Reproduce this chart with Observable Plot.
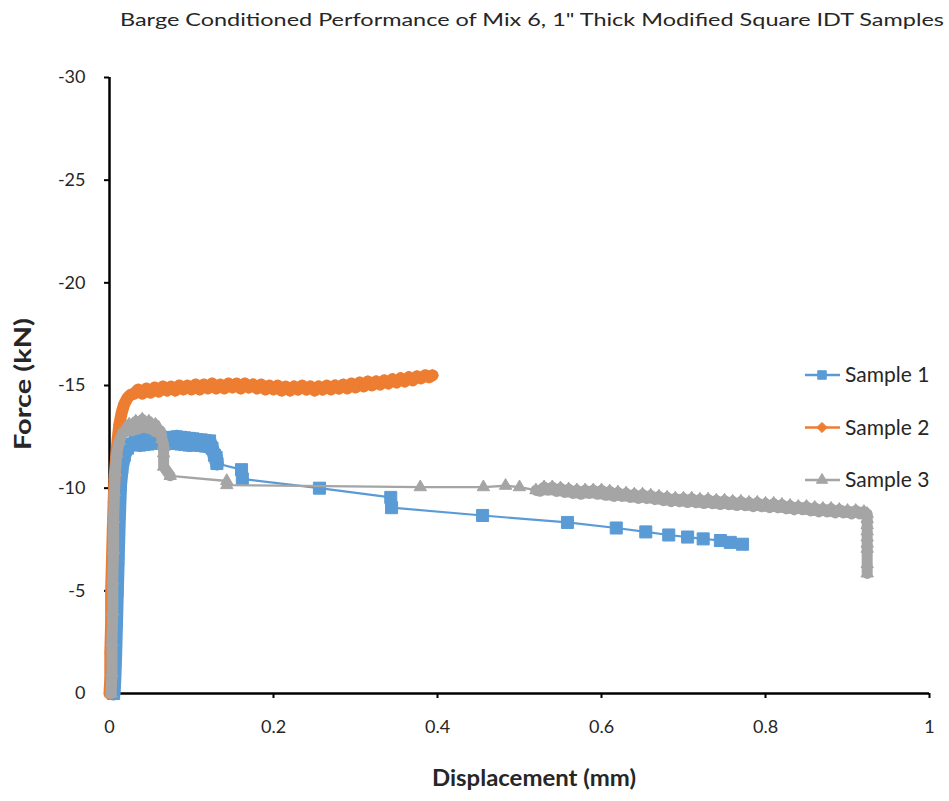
<!DOCTYPE html>
<html>
<head>
<meta charset="utf-8">
<script src="https://cdn.jsdelivr.net/npm/d3@7"></script>
<script src="https://cdn.jsdelivr.net/npm/@observablehq/plot@0.6"></script>
<style>
  body { margin: 0; background: #fff; }
  #chart { position: relative; width: 949px; height: 801px; }
  #chart svg { position: absolute; left: 0; top: 0; }
</style>
</head>
<body>
<div id="chart"></div>
<script>
// Force–displacement records, [displacement (mm), force (kN)]
const sample1 = [
  [0.005, 0], [0.006, -0.8], [0.007, -2], [0.008, -3.5], [0.009, -5], [0.010, -6.5],
  [0.011, -8], [0.012, -9.2], [0.013, -10.2], [0.015, -11], [0.018, -11.6], [0.022, -11.95],
  [0.027, -12.15], [0.032, -12.3], [0.037, -12.1], [0.042, -12.45], [0.047, -12.15],
  [0.052, -12.5], [0.057, -12.2], [0.062, -12.5], [0.067, -12.15], [0.072, -12.45],
  [0.077, -12.2], [0.082, -12.5], [0.087, -12.15], [0.092, -12.45], [0.097, -12.1],
  [0.102, -12.4], [0.107, -12.1], [0.112, -12.35], [0.117, -12.05], [0.122, -12.3],
  [0.125, -11.95], [0.128, -11.6], [0.130, -11.5], [0.131, -11.2],
  [0.161, -10.9], [0.162, -10.45], [0.256, -10.0], [0.343, -9.55], [0.344, -9.05],
  [0.455, -8.67], [0.5585, -8.33], [0.618, -8.06], [0.654, -7.87], [0.682, -7.72],
  [0.705, -7.62], [0.724, -7.53], [0.745, -7.45], [0.757, -7.36], [0.772, -7.27]
];

const sample2 = [
  [0.000, 0], [0.001, -0.8], [0.001, -2], [0.002, -3.5], [0.002, -5], [0.003, -6.5],
  [0.004, -8], [0.005, -9.3], [0.006, -10.4], [0.008, -11.5], [0.010, -12.4], [0.012, -13.1],
  [0.015, -13.7], [0.018, -14.1], [0.022, -14.4], [0.026, -14.55], [0.030, -14.6],
  [0.035, -14.8], [0.040, -14.6], [0.045, -14.85], [0.050, -14.65], [0.055, -14.9],
  [0.060, -14.7], [0.065, -14.95], [0.070, -14.75], [0.075, -14.95], [0.080, -14.75],
  [0.085, -15.0], [0.090, -14.8], [0.095, -15.0], [0.100, -14.8], [0.105, -15.05],
  [0.110, -14.8], [0.115, -15.05], [0.120, -14.85], [0.125, -15.1], [0.130, -14.85],
  [0.135, -15.05], [0.140, -14.85], [0.145, -15.1], [0.150, -14.9], [0.155, -15.1],
  [0.160, -14.85], [0.165, -15.1], [0.170, -14.9], [0.175, -15.05], [0.180, -14.85],
  [0.185, -15.05], [0.190, -14.8], [0.195, -15.0], [0.200, -14.8], [0.205, -15.0],
  [0.210, -14.75], [0.215, -14.95], [0.220, -14.75], [0.225, -14.95], [0.230, -14.8],
  [0.235, -15.0], [0.240, -14.8], [0.245, -14.95], [0.250, -14.75], [0.255, -14.95],
  [0.260, -14.8], [0.265, -15.0], [0.270, -14.8], [0.275, -15.0], [0.280, -14.85],
  [0.285, -15.05], [0.290, -14.85], [0.295, -15.1], [0.300, -14.9], [0.305, -15.15],
  [0.310, -14.95], [0.315, -15.2], [0.320, -15.0], [0.325, -15.2], [0.330, -15.05],
  [0.335, -15.25], [0.340, -15.1], [0.345, -15.3], [0.350, -15.15], [0.355, -15.35],
  [0.360, -15.2], [0.365, -15.4], [0.370, -15.25], [0.375, -15.45], [0.380, -15.35],
  [0.385, -15.5], [0.390, -15.4], [0.394, -15.5]
];

const sample3 = [
  [0.002, 0], [0.003, -1], [0.003, -2.5], [0.004, -4], [0.004, -5.5], [0.005, -7],
  [0.005, -8.5], [0.006, -9.8], [0.007, -10.8], [0.009, -11.7], [0.012, -12.3],
  [0.016, -12.7], [0.020, -12.85], [0.024, -13.1], [0.028, -12.8], [0.032, -13.25],
  [0.036, -12.9], [0.040, -13.35], [0.044, -12.95], [0.048, -13.25], [0.052, -12.85],
  [0.056, -13.1], [0.059, -12.7], [0.062, -12.8], [0.064, -12.4], [0.066, -12.1],
  [0.066, -11.7], [0.066, -11.05], [0.074, -10.6], [0.143, -10.35], [0.143, -10.15],
  [0.379, -10.05], [0.456, -10.05], [0.483, -10.12], [0.500, -10.05], [0.520, -9.9],
  [0.525, -9.85], [0.530, -10.05], [0.535, -9.9], [0.540, -10.05], [0.545, -9.85],
  [0.550, -10.0], [0.555, -9.8], [0.560, -9.95], [0.565, -9.75], [0.570, -9.9],
  [0.575, -9.7], [0.580, -9.9], [0.585, -9.75], [0.590, -9.9], [0.595, -9.7],
  [0.600, -9.9], [0.605, -9.65], [0.610, -9.85], [0.615, -9.6], [0.620, -9.8],
  [0.625, -9.6], [0.630, -9.75], [0.635, -9.55], [0.640, -9.7], [0.645, -9.5],
  [0.650, -9.7], [0.655, -9.5], [0.660, -9.65], [0.665, -9.45], [0.670, -9.6],
  [0.675, -9.4], [0.680, -9.55], [0.685, -9.35], [0.690, -9.5], [0.695, -9.35],
  [0.700, -9.5], [0.705, -9.3], [0.710, -9.5], [0.715, -9.3], [0.720, -9.45],
  [0.725, -9.25], [0.730, -9.45], [0.735, -9.25], [0.740, -9.4], [0.745, -9.2],
  [0.750, -9.4], [0.755, -9.2], [0.760, -9.35], [0.765, -9.15], [0.770, -9.35],
  [0.775, -9.15], [0.780, -9.3], [0.785, -9.1], [0.790, -9.3], [0.795, -9.1],
  [0.800, -9.25], [0.805, -9.05], [0.810, -9.25], [0.815, -9.05], [0.820, -9.2],
  [0.825, -9.0], [0.830, -9.15], [0.835, -8.95], [0.840, -9.1], [0.845, -8.95],
  [0.850, -9.1], [0.855, -8.9], [0.860, -9.05], [0.865, -8.85], [0.870, -9.0],
  [0.875, -8.85], [0.880, -9.0], [0.885, -8.8], [0.890, -8.95], [0.895, -8.8],
  [0.900, -8.9], [0.905, -8.75], [0.910, -8.9], [0.915, -8.75], [0.920, -8.85],
  [0.924, -8.75], [0.924, -8.5], [0.924, -8.2], [0.924, -7.9], [0.924, -7.6],
  [0.924, -7.3], [0.924, -7.05], [0.924, -6.3], [0.924, -5.85]
];

const seriesNames = ["Sample 1", "Sample 2", "Sample 3"];
const seriesColors = ["#5B9BD5", "#ED7D31", "#A5A5A5"];
const seriesSymbols = ["square", "diamond2", "triangle"];

const xTicks = [0, 0.2, 0.4, 0.6, 0.8, 1];
const xTickLabels = ["0", "0.2", "0.4", "0.6", "0.8", "1"];
const yTicks = [0, -5, -10, -15, -20, -25, -30];
const yTickLabels = ["0", "-5", "-10", "-15", "-20", "-25", "-30"];

const titleText = "Barge Conditioned Performance of Mix 6, 1\" Thick Modified Square IDT Samples";
const xLabel = "Displacement (mm)";
const yLabel = "Force (kN)";

const font = "Lato, 'Open Sans', sans-serif";
const ink = "#262626";

// per-series style: marker radius, thin connector width, width of the dense-record band
const markerR = [6.8, 5.0, 4.6];
const lineW = [2.2, 2.2, 2.4];
const bandW = [14, 12, 11];

// Closely spaced readings run together into one continuous band; a jump in
// displacement starts a new run.
function withRuns(rows) {
  let run = 0;
  return rows.map(([d, f], j) => {
    if (j > 0 && d - rows[j - 1][0] > 0.011) run++;
    return {d, f, run};
  });
}

const records = [sample1, sample2, sample3];
const seriesMarks = records.flatMap((rows, i) => {
  const data = withRuns(rows);
  const counts = d3.rollup(data, v => v.length, r => r.run);
  const dense = data.filter(r => counts.get(r.run) >= 4);
  return [
    Plot.line(dense, {x: "d", y: "f", z: "run", stroke: seriesColors[i], strokeWidth: bandW[i],
      strokeLinejoin: "round", strokeLinecap: "round"}),
    Plot.line(data, {x: "d", y: "f", stroke: seriesColors[i], strokeWidth: lineW[i]}),
    Plot.dot(data, {x: "d", y: "f", symbol: seriesSymbols[i], r: markerR[i],
      fill: seriesColors[i], stroke: seriesColors[i], strokeWidth: 1})
  ];
});

const chart = Plot.plot({
  width: 949,
  height: 801,
  marginLeft: 109,
  marginRight: 20,
  marginTop: 77,
  marginBottom: 108,
  style: {fontFamily: font, background: "#fff", color: ink},
  x: {domain: [0, 1]},
  y: {domain: [0, -30]},
  marks: [
    Plot.axisX({ticks: xTicks, tickFormat: d => xTickLabels[xTicks.indexOf(d)],
      tickSize: 5, tickPadding: 22, fontSize: 18, label: null, stroke: "#000", strokeWidth: 2, fill: ink}),
    Plot.axisY({ticks: yTicks, tickFormat: d => yTickLabels[yTicks.indexOf(d)],
      tickSize: 5, tickPadding: 19, fontSize: 18, label: null, stroke: "#000", strokeWidth: 2, fill: ink}),
    Plot.ruleY([0], {stroke: "#000", strokeWidth: 2.5}),
    Plot.ruleX([0], {stroke: "#000", strokeWidth: 2.5}),
    ...seriesMarks
  ]
});

const root = document.getElementById("chart");
root.appendChild(chart);

// Title and axis titles
const svg = d3.select(chart);
svg.append("text")
  .attr("x", 120).attr("y", 26)
  .attr("text-anchor", "start")
  .attr("textLength", 824).attr("lengthAdjust", "spacingAndGlyphs")
  .style("font", `18px ${font}`).attr("fill", ink)
  .text(titleText);

svg.append("text")
  .attr("x", 534).attr("y", 786)
  .attr("text-anchor", "middle")
  .attr("textLength", 204).attr("lengthAdjust", "spacingAndGlyphs")
  .style("font", `bold 22px ${font}`).attr("fill", ink)
  .text(xLabel);

svg.append("text")
  .attr("transform", "translate(31,384) rotate(-90)")
  .attr("text-anchor", "middle")
  .attr("textLength", 132).attr("lengthAdjust", "spacingAndGlyphs")
  .style("font", `bold 22px ${font}`).attr("fill", ink)
  .text(yLabel);

// Legend: line swatch with marker, then series name
const legend = d3.select(root).append("svg")
  .attr("width", 154).attr("height", 150)
  .style("left", "795px").style("top", "350px");
seriesNames.forEach((name, i) => {
  const g = legend.append("g").attr("transform", `translate(0,${25 + i * 52.5})`);
  g.append("line").attr("x1", 10).attr("x2", 45).attr("y1", 0).attr("y2", 0)
    .attr("stroke", seriesColors[i]).attr("stroke-width", 2.5);
  const sym = [d3.symbolSquare, d3.symbolDiamond2, d3.symbolTriangle][i];
  const r = [4.8, 4.6, 4.2][i];
  g.append("path").attr("d", d3.symbol(sym, Math.PI * r * r)())
    .attr("transform", "translate(27,0)")
    .attr("fill", seriesColors[i]).attr("stroke", seriesColors[i]);
  g.append("text").attr("x", 50).attr("y", 0).attr("dy", "0.35em")
    .attr("text-anchor", "start")
    .style("font", `21px ${font}`).attr("fill", ink).text(name);
});
</script>
</body>
</html>
